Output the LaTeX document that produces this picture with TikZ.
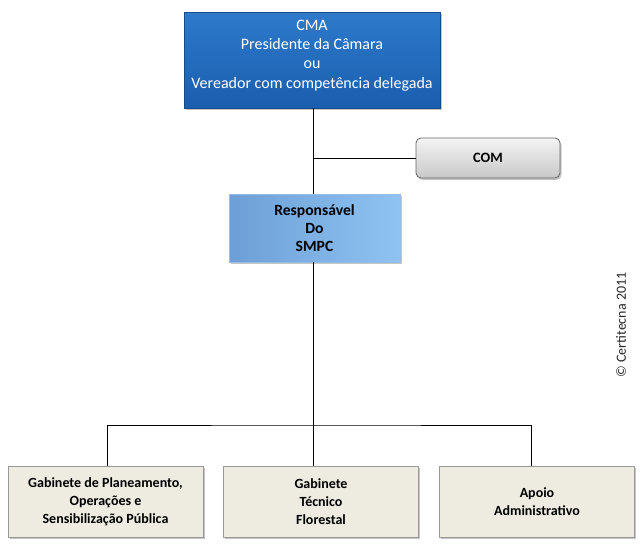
\documentclass[tikz,border=0pt]{standalone}
\usepackage{fontspec}
\setmainfont{Carlito}
\usetikzlibrary{shadows}
\definecolor{topblue}{HTML}{1A5EAE}
\definecolor{topbluel}{HTML}{2E7ACB}
\definecolor{midblueA}{HTML}{8EC3F2}
\definecolor{midblueB}{HTML}{6D9FD6}
\definecolor{beige}{HTML}{EEECE1}
\definecolor{grayL}{HTML}{F4F4F4}
\definecolor{grayD}{HTML}{C8C8C8}
\tikzset{
  box/.style={draw=gray!70, line width=0.8pt, align=center, inner sep=0pt,
    drop shadow={shadow xshift=1.5pt, shadow yshift=-2pt, fill=black!45, opacity=0.5}},
  topbox/.style={box, draw=topblue!80!black, top color=topbluel, bottom color=topblue,
    minimum width=256pt, minimum height=96pt},
  toptext/.style={text=white, align=center, font=\fontsize{16}{19.3}\selectfont},
  combox/.style={box, rounded corners=5pt, draw=gray!80!black, top color=grayL, bottom color=grayD,
    font=\bfseries\fontsize{14.3}{18}\selectfont, minimum width=144pt, minimum height=40pt},
  midbox/.style={box, draw=midblueB!70!white, left color=midblueB, right color=midblueA,
    font=\bfseries\fontsize{15.6}{18}\selectfont, minimum width=171pt, minimum height=68pt},
  botbox/.style={box, fill=beige, draw=gray!80,
    font=\bfseries\fontsize{14}{18}\selectfont, minimum width=195pt, minimum height=71pt},
  conn/.style={draw=black, line width=0.8pt}
}
\begin{document}
\begin{tikzpicture}[x=1pt,y=-1pt]
\useasboundingbox (0,0) rectangle (642,549);
\node[topbox, label={[toptext, yshift=4.5pt]center:CMA\\Presidente da Câmara\\ou\\Vereador com competência delegada}] (cma) at (312,60) {};
\node[combox] (com) at (488,158) {COM};
\node[midbox] (resp) at (314.5,228) {Responsável\\Do\\SMPC};
\node[botbox] (g1) at (105.5,501.5) {Gabinete de Planeamento,\\Operações e\\Sensibilização Pública};
\node[botbox] (g2) at (321,501.5) {Gabinete\\Técnico\\Florestal};
\node[botbox] (g3) at (537,501.5) {Apoio\\Administrativo};
\coordinate (j1) at (313,158);
\coordinate (j2) at (313,425);
\node[rotate=90, font=\fontsize{14}{16}\selectfont, text=black!85] (copy) at (621,325) {© Certitecna 2011};
\draw[conn] (313,108) -- (313,194);
\draw[conn] (j1) -- (com.west);
\draw[conn] (313,262) -- (j2);
\draw[conn] (g1.north -| 107,0) |- (j2) -| (g3.north -| 531,0);
\draw[conn] (j2) -- (j2 |- g2.north);
\end{tikzpicture}
\end{document}
